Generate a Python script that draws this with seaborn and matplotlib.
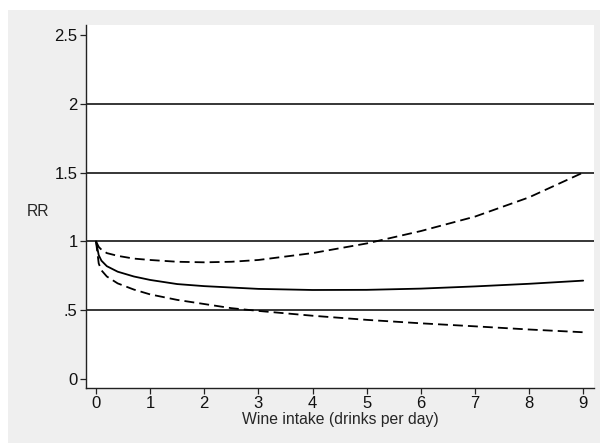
import numpy as np
import pandas as pd
import seaborn as sns
import matplotlib.pyplot as plt
from matplotlib.patches import Rectangle

# Data
wine = [0, 0.05, 0.1, 0.2, 0.4, 0.7, 1, 1.5, 2, 2.5, 3, 4, 5, 6, 7, 8, 9]
rr = [1.0, 0.90, 0.86, 0.82, 0.78, 0.745, 0.72, 0.69, 0.675, 0.665, 0.655,
      0.647, 0.648, 0.657, 0.673, 0.692, 0.715]
rr_upper = [1.0, 0.96, 0.94, 0.915, 0.895, 0.875, 0.865, 0.852, 0.848, 0.852,
            0.865, 0.915, 0.985, 1.075, 1.18, 1.32, 1.50]
rr_lower = [1.0, 0.84, 0.79, 0.745, 0.695, 0.65, 0.615, 0.575, 0.545, 0.515,
            0.495, 0.46, 0.43, 0.405, 0.383, 0.36, 0.34]

y_ticks = [0, 0.5, 1, 1.5, 2, 2.5]
y_labels = ['0', '.5', '1', '1.5', '2', '2.5']
x_ticks = list(range(10))

df = pd.DataFrame({'wine': wine, 'rr': rr, 'upper': rr_upper, 'lower': rr_lower})

sns.set_style('ticks')
plt.rcParams['font.family'] = ['Liberation Sans', 'DejaVu Sans']

fig = plt.figure(figsize=(6, 4.43), dpi=100, facecolor='white')
# gray Stata-like background panel
fig.patches.append(Rectangle((8 / 600, 0), 1 - 8 / 600, 1 - 10 / 443,
                             transform=fig.transFigure, facecolor='#efefef',
                             edgecolor='none', zorder=-1))
ax = fig.add_axes([86 / 600, 1 - 388 / 443, (594 - 86) / 600, (388 - 25) / 443])
ax.set_facecolor('white')

# horizontal grid lines
for yv in [0.5, 1, 1.5, 2]:
    ax.axhline(yv, color='black', lw=1.1, zorder=1)

dash = (0, (5.5, 2.8))
sns.lineplot(data=df, x='wine', y='rr', color='black', lw=1.3, ax=ax, zorder=3)
sns.lineplot(data=df, x='wine', y='upper', color='black', lw=1.3, ax=ax,
             linestyle=dash, zorder=3)
sns.lineplot(data=df, x='wine', y='lower', color='black', lw=1.3, ax=ax,
             linestyle=dash, zorder=3)

ax.set_xlim(-0.185, 9.2)
ax.set_ylim(-0.065, 2.572)
ax.set_xticks(x_ticks)
ax.set_yticks(y_ticks)
ax.set_yticklabels(y_labels)
ax.tick_params(axis='both', length=4, width=0.9, color='#222222',
               labelsize=12, pad=2, labelcolor='#111111')

sns.despine(ax=ax)
for s in ['left', 'bottom']:
    ax.spines[s].set_color('#222222')
    ax.spines[s].set_linewidth(1.0)

ax.set_xlabel('Wine intake (drinks per day)', fontsize=11.3, labelpad=0.5)
ax.set_ylabel('RR', fontsize=11.3, rotation=0, va='center', labelpad=0)
ax.yaxis.set_label_coords(-0.095, 0.485)

plt.savefig('out.png', dpi=100)
plt.close()
